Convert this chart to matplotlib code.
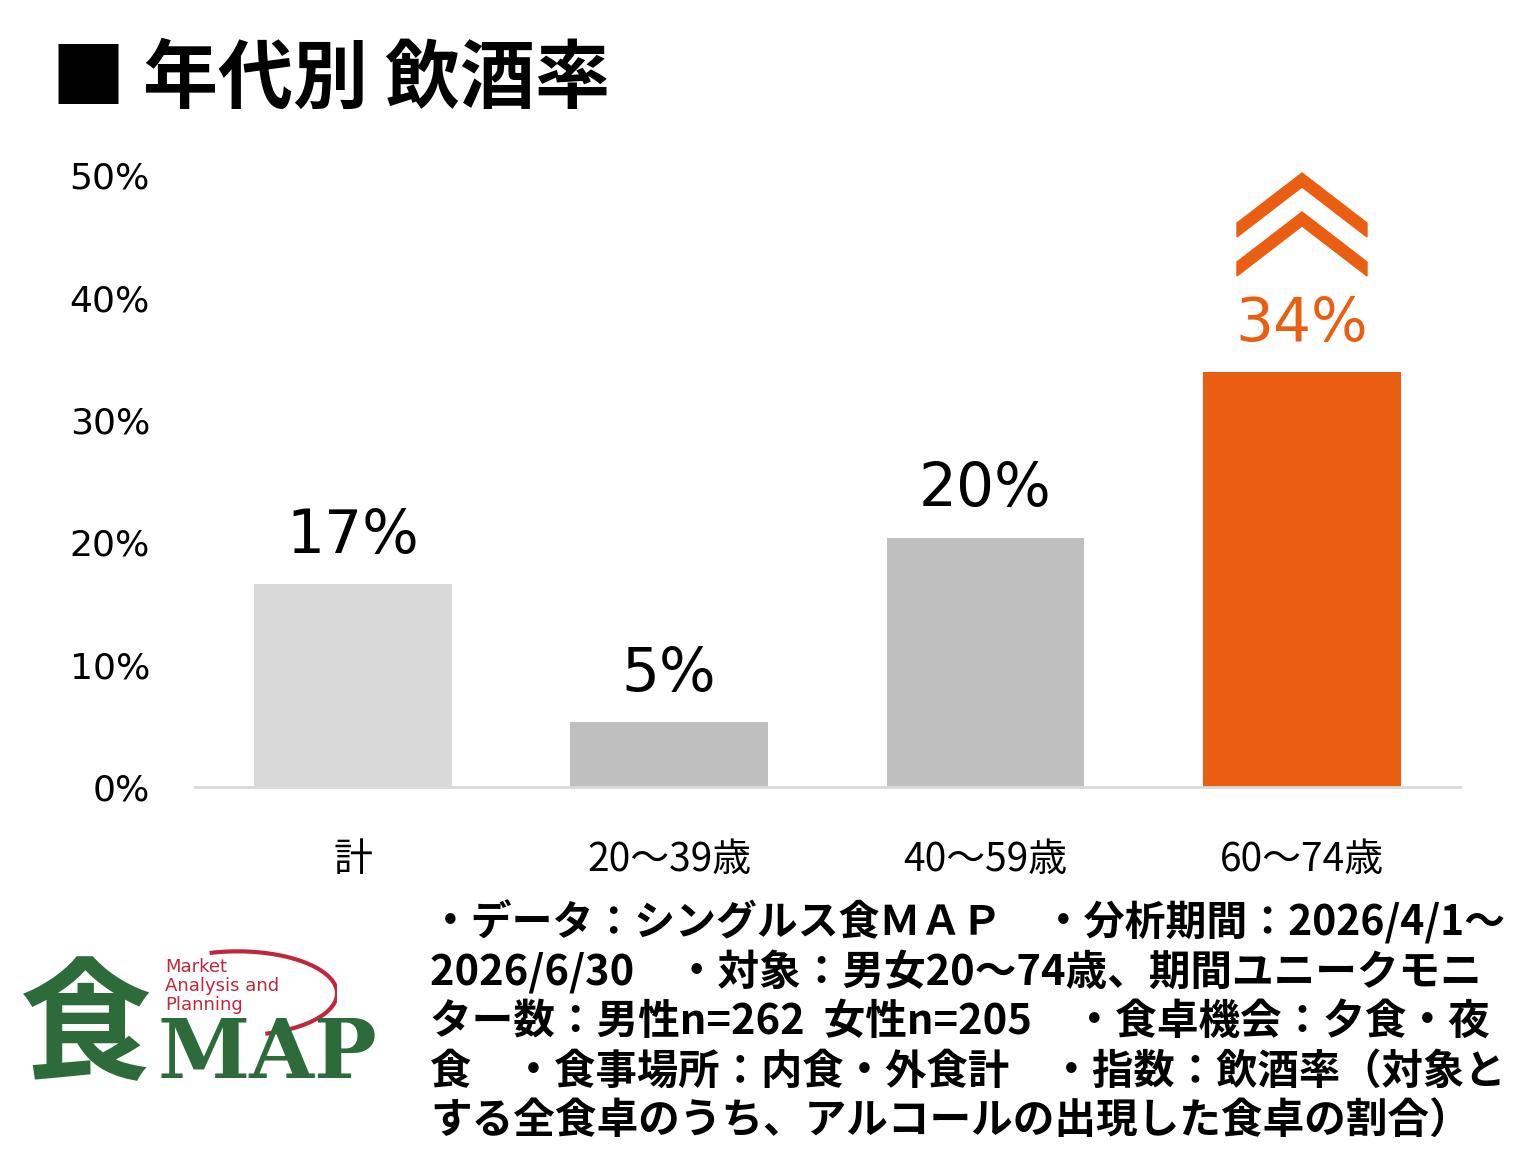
import matplotlib
matplotlib.use("Agg")
import matplotlib.pyplot as plt
from matplotlib.patches import Polygon, Arc

plt.rcParams['font.family'] = ['Noto Sans CJK JP', 'DejaVu Sans']

categories = ["計", "20～39歳", "40～59歳", "60～74歳"]
values = [16.6, 5.3, 20.4, 33.9]
labels = ["17%", "5%", "20%", "34%"]
colors = ["#d9d9d9", "#bfbfbf", "#bfbfbf", "#ea5e12"]
yticks = [0, 10, 20, 30, 40, 50]

fig = plt.figure(figsize=(15.32, 11.68), dpi=100)
ax = fig.add_axes([0.127, 0.326, 0.826, 0.524])
ax.bar(range(len(values)), values, width=0.625, color=colors)
ax.set_xlim(-0.5, 3.5)
ax.set_ylim(0, 50)
for s in ["top", "right", "left"]:
    ax.spines[s].set_visible(False)
ax.spines["bottom"].set_color("#d9d9d9")
ax.spines["bottom"].set_linewidth(2)
ax.set_yticks(yticks)
ax.set_yticklabels([f"{t}%" for t in yticks], fontsize=26, family=['DejaVu Sans'])
ax.set_xticks(range(len(categories)))
ax.set_xticklabels(categories, fontsize=28)
ax.tick_params(length=0, pad=32, axis='y')
ax.tick_params(axis='x', length=0, pad=38)
for i, (v, lab) in enumerate(zip(values, labels)):
    c = "#ea5e12" if i == 3 else "black"
    ax.text(i, v + 1.5, lab, ha="center", va="bottom", fontsize=43, color=c,
            family=['DejaVu Sans'])

# chevrons above the highlighted bar (figure pixel coords)
def chevron(ytop):
    pts = [(1237, ytop + 50), (1302, ytop), (1367, ytop + 50), (1367, ytop + 64),
           (1302, ytop + 14), (1237, ytop + 64)]
    return Polygon([(x / 1532, 1 - y / 1168) for x, y in pts], closed=True,
                   transform=fig.transFigure, color="#ea5e12")
fig.patches.append(chevron(173))
fig.patches.append(chevron(212))

fig.text(0.033, 0.932, "■ 年代別 飲酒率", fontsize=54, fontweight="bold", va="center")

notes = [
    "・データ：シングルス食ＭＡＰ　・分析期間：2026/4/1～",
    "2026/6/30　・対象：男女20～74歳、期間ユニークモニ",
    "ター数：男性n=262  女性n=205　・食卓機会：夕食・夜",
    "食　・食事場所：内食・外食計　・指数：飲酒率（対象と",
    "する全食卓のうち、アルコールの出現した食卓の割合）",
]
for k, line in enumerate(notes):
    t = fig.text(0.281, 1 - (922 + k * 50) / 1168, line, fontsize=25, fontweight="bold",
                 va="center")
fig.canvas.draw()
r = fig.canvas.get_renderer()
target = 1505 - 430
for t in fig.texts[-5:]:
    w = t.get_window_extent(r).width
    t.set_fontsize(25 * min(target / w, 1.2))

# logo
green = "#2e6b3a"
fig.text(0.013, 1 - 1030 / 1168, "食", fontsize=95, fontweight="bold", color=green, va="center")
fig.text(0.103, 1 - 1055 / 1168, "MAP", fontsize=60, fontweight="bold", color=green,
         va="center", family=['DejaVu Serif'])
for k, t in enumerate(["Market", "Analysis and", "Planning"]):
    fig.text(0.108, 1 - (967 + k * 19) / 1168, t, fontsize=13, color="#c0273a",
             va="center", family=['DejaVu Sans'])
lax = fig.add_axes([0.09, 0.10, 0.13, 0.09])
lax.set_xlim(0, 1); lax.set_ylim(0, 1); lax.axis("off")
lax.add_patch(Arc((0.5, 0.55), 1.0, 0.8, theta1=-70, theta2=110, color="#c0273a", lw=3))

fig.savefig("out.png", dpi=100)
